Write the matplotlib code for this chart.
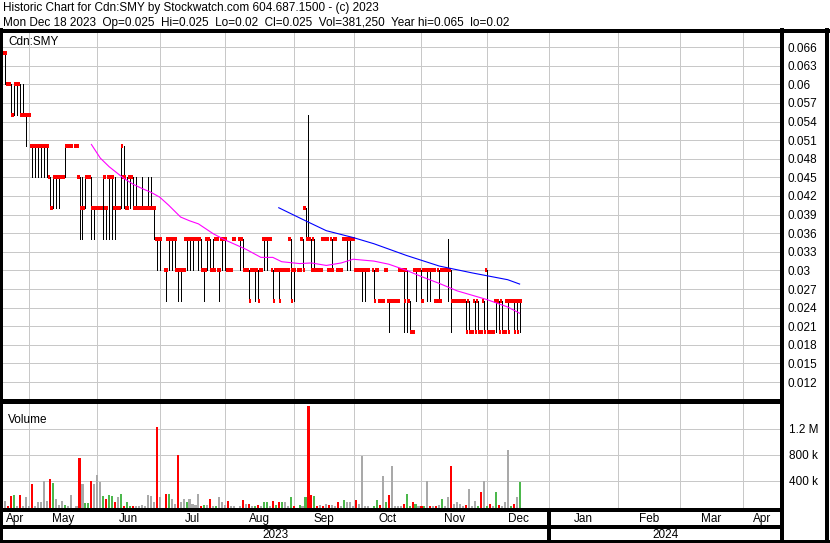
import numpy as np
import matplotlib
matplotlib.use('Agg')
import matplotlib.pyplot as plt
from matplotlib.lines import Line2D

plt.rcParams['font.family'] = ['Liberation Sans', 'DejaVu Sans']

# ---------------- data ----------------
first_day = '2023-04-18'
last_day = '2023-12-18'
holidays = ['2023-05-22', '2023-07-03', '2023-08-07', '2023-09-04', '2023-10-09']

# OHLC in thousandths of a dollar, one entry per trading day (Apr..Dec)
opens = [65, 65, 60, 60, 55, 60, 60, 55, 55,
         55, 50, 50, 50, 50, 50, 50, 45, 40, 45, 45, 45, 45, 50, 50, 50, 45, 40, 40, 45, 45, 40,
         40, 40, 40, 40, 45, 45, 40, 40, 40, 45, 40, 45, 45, 40, 40, 40, 40, 40, 40, 40, 35, 35,
         30, 35, 35, 35, 30, 30, 30, 35, 35, 35, 35, 35, 35, 30, 35, 35, 30, 35, 30, 35,
         35, 30, 30, 35, 35, 35, 30, 30, 30, 30, 30, 30, 35, 35, 35, 30, 30, 30, 30, 30, 30, 35,
         30, 30, 35, 40, 35, 35, 35, 30, 30, 35, 35, 30, 35, 35, 30, 30, 35, 35, 35, 35,
         30, 30, 30, 30, 30, 30, 30, 25, 25, 30, 25, 25, 25, 25, 30, 30, 30, 25, 20, 30, 30,
         30, 30, 30, 30, 30, 25, 30, 30, 30, 30, 30, 25, 25, 25, 25, 25, 25, 20, 25, 25, 20, 25,
         30, 20, 20, 25, 25, 25, 20, 25, 25, 25, 25, 25]
highs = [65, 65, 60, 60, 60, 60, 60, 60, 55,
         55, 50, 50, 50, 50, 50, 50, 45, 45, 45, 45, 45, 50, 50, 50, 50, 45, 45, 45, 45, 45, 40,
         40, 40, 45, 40, 45, 45, 45, 40, 50, 50, 45, 45, 45, 45, 40, 45, 40, 45, 45, 40, 35, 35,
         30, 35, 35, 35, 30, 30, 30, 35, 35, 35, 35, 35, 35, 30, 35, 35, 35, 35, 30, 35,
         35, 30, 30, 35, 35, 35, 30, 30, 30, 30, 30, 30, 35, 35, 35, 30, 30, 30, 30, 30, 30, 35,
         30, 30, 35, 40, 55, 35, 35, 30, 30, 35, 35, 30, 35, 35, 30, 30, 35, 35, 35, 35,
         30, 30, 30, 30, 30, 30, 30, 25, 25, 30, 25, 25, 25, 25, 30, 30, 30, 25, 20, 30, 30,
         30, 30, 30, 30, 30, 25, 30, 30, 30, 35, 30, 25, 25, 25, 25, 25, 25, 20, 25, 25, 20, 25,
         30, 20, 20, 25, 25, 25, 20, 25, 25, 25, 25, 25]
lows = [65, 60, 60, 55, 55, 55, 55, 55, 50,
        55, 45, 45, 45, 45, 45, 45, 40, 40, 40, 40, 45, 45, 50, 50, 50, 35, 35, 40, 45, 35, 35,
        40, 40, 35, 35, 35, 35, 35, 40, 40, 40, 40, 40, 40, 40, 40, 40, 40, 40, 40, 35, 30, 30,
        25, 30, 30, 30, 25, 25, 30, 30, 30, 30, 35, 30, 30, 25, 30, 30, 30, 35, 25, 30,
        30, 30, 30, 35, 30, 30, 30, 25, 30, 25, 25, 30, 30, 30, 35, 25, 30, 25, 30, 30, 30, 25,
        25, 30, 30, 35, 35, 30, 30, 30, 30, 35, 35, 30, 30, 35, 30, 30, 35, 30, 30, 35,
        30, 30, 25, 25, 30, 25, 30, 25, 25, 30, 20, 25, 25, 25, 30, 20, 20, 20, 20, 25, 30,
        25, 30, 25, 25, 30, 25, 25, 30, 30, 25, 20, 25, 25, 25, 25, 20, 20, 20, 20, 20, 20, 20,
        20, 20, 20, 20, 20, 20, 20, 20, 25, 20, 20, 20]
closes = [65, 65, 60, 55, 60, 60, 55, 55, 55,
          55, 50, 50, 50, 50, 50, 50, 40, 45, 45, 45, 45, 50, 50, 50, 50, 40, 40, 45, 45, 40, 40,
          40, 40, 45, 40, 45, 45, 40, 40, 50, 45, 40, 45, 40, 40, 40, 40, 40, 40, 40, 40, 35, 35,
          30, 35, 35, 35, 30, 30, 30, 35, 35, 35, 35, 35, 30, 30, 35, 30, 30, 35, 30, 35,
          35, 30, 30, 35, 35, 30, 30, 25, 30, 30, 25, 30, 35, 35, 35, 25, 30, 25, 30, 30, 30, 25,
          30, 30, 30, 35, 35, 30, 30, 30, 30, 35, 35, 30, 30, 35, 30, 30, 35, 35, 35, 35,
          30, 30, 30, 30, 30, 25, 30, 25, 25, 30, 25, 25, 25, 25, 30, 25, 25, 20, 20, 30, 30,
          25, 30, 30, 30, 30, 25, 25, 30, 30, 30, 25, 25, 25, 25, 25, 20, 20, 20, 20, 20, 20, 20,
          20, 20, 20, 25, 20, 20, 20, 20, 25, 20, 20, 25]

# daily volume (thousands of shares) and bar colour code (R down, G up, N unchanged)
volumes = [56, 92, 15, 169, 185, 15, 185, 5, 154,
           5, 339, 15, 72, 67, 400, 92, 431, 369, 123, 31, 82, 31, 5, 185, 5, 739, 339, 56, 56, 400, 354,
           492, 380, 169, 123, 185, 159, 77, 154, 200, 10, 72, 15, 5, 5, 4, 31, 5, 185, 169, 77, 1231, 154,
           200, 200, 123, 46, 800, 77, 123, 77, 123, 46, 31, 200, 15, 31, 31, 123, 15, 5, 154, 62,
           31, 92, 5, 5, 5, 108, 46, 46, 5, 5, 31, 5, 77, 62, 5, 92, 31, 77, 77, 77, 4, 154,
           5, 31, 15, 139, 1554, 185, 169, 5, 31, 5, 46, 31, 31, 5, 62, 5, 108, 77, 62, 4,
           108, 46, 785, 5, 5, 5, 108, 31, 462, 77, 185, 616, 5, 5, 5, 46, 200, 5, 77, 46, 4,
           15, 5, 400, 15, 5, 5, 31, 123, 4, 139, 616, 46, 77, 46, 5, 31, 277, 5, 92, 15, 231, 400,
           15, 36, 5, 231, 31, 5, 77, 877, 15, 46, 139, 381]
vol_codes = ("NNRRGNRNN"
             "NRNNNNNRGNNNGNNNRNGGRN"
             "NNGRGGRNGRGGRNNNNNNNRN"
             "RGNNRNNGNNNNRGNRNGNN"
             "NRNNNRNRNGRNGGNRGRGNNG"
             "RGNGRRGRNRNRNNRNGNNN"
             "RNNNNGGRNGRNNNNRGGRGN"
             "RGNRNRNGNNRNNNNRNNNGRN"
             "GRNGRNNNGRNG")

# moving averages (date, price)
ma_short_dates = ['2023-05-30', '2023-06-02', '2023-06-07', '2023-06-14', '2023-06-19', '2023-06-22',
                  '2023-06-27', '2023-06-30', '2023-07-05', '2023-07-11', '2023-07-14', '2023-07-19',
                  '2023-07-26', '2023-08-01', '2023-08-10', '2023-08-17', '2023-08-23', '2023-08-28',
                  '2023-09-05', '2023-09-11', '2023-09-18', '2023-09-25', '2023-09-29', '2023-10-10',
                  '2023-10-17', '2023-10-25', '2023-11-01', '2023-11-09', '2023-11-17', '2023-12-01',
                  '2023-12-12', '2023-12-18']
ma_short_vals = [0.0503, 0.0481, 0.0467, 0.0448, 0.0439, 0.0432, 0.0426, 0.0418, 0.0405, 0.0386,
                 0.0380, 0.0375, 0.0359, 0.0349, 0.0334, 0.0321, 0.0321, 0.0314, 0.0311, 0.0312,
                 0.0308, 0.0312, 0.0318, 0.0315, 0.0310, 0.0300, 0.0290, 0.0279, 0.0267, 0.0253,
                 0.0241, 0.0231]
ma_long_dates = ['2023-08-25', '2023-09-07', '2023-09-18', '2023-09-29', '2023-10-10', '2023-10-25',
                 '2023-11-09', '2023-11-24', '2023-12-12', '2023-12-18']
ma_long_vals = [0.0401, 0.0380, 0.0364, 0.0353, 0.0343, 0.0324, 0.0307, 0.0296, 0.0285, 0.0278]

price_ticks = [0.012, 0.015, 0.018, 0.021, 0.024, 0.027, 0.030, 0.033, 0.036, 0.039, 0.042,
               0.045, 0.048, 0.051, 0.054, 0.057, 0.060, 0.063, 0.066]
vol_ticks = [400, 800, 1200]
vol_tick_labels = ['400 k', '800 k', '1.2 M']
month_names = ['Apr', 'May', 'Jun', 'Jul', 'Aug', 'Sep', 'Oct', 'Nov', 'Dec', 'Jan', 'Feb', 'Mar', 'Apr']
years = ['2023', '2024']

title1 = "Historic Chart for Cdn:SMY by Stockwatch.com 604.687.1500 - (c) 2023"
title2 = "Mon Dec 18 2023  Op=0.025  Hi=0.025  Lo=0.02  Cl=0.025  Vol=381,250  Year hi=0.065  lo=0.02"

# ---------------- layout helpers ----------------
W, H = 830, 543
fig = plt.figure(figsize=(W / 100, H / 100), dpi=100)
fig.patch.set_facecolor('white')


def rect(x0, y0, x1, y1):
    return [x0 / W, 1 - y1 / H, (x1 - x0) / W, (y1 - y0) / H]


def fline(xs, ys, lw=1.0, color='black'):
    fig.add_artist(Line2D([v / W for v in xs], [1 - v / H for v in ys], lw=lw, color=color,
                          antialiased=False, transform=fig.transFigure))


days = np.arange(np.datetime64(first_day), np.datetime64(last_day) + 1)
days = days[np.is_busday(days, holidays=holidays)]
X = np.busday_count('2023-05-01', days).astype(float)
O = np.array(opens) / 1000
Hh = np.array(highs) / 1000
L = np.array(lows) / 1000
C = np.array(closes) / 1000
V = np.array(volumes, dtype=float)
cmap = {'R': '#ff0000', 'G': '#4cb84c', 'N': '#a9a9a9'}
vcols = [cmap[c] for c in vol_codes]

month_starts = np.arange(np.datetime64('2023-05'), np.datetime64('2024-05'),
                         dtype='datetime64[M]').astype('datetime64[D]')
GX = np.busday_count('2023-05-01', month_starts).astype(float)
GX[~np.is_busday(month_starts)] -= 0.8
XL = (-9.4, 252.9)
grid_c = '#c8c8c8'
PLEFT, PRIGHT = 1, 781

# ---------------- price panel ----------------
ax = fig.add_axes(rect(PLEFT, 31, PRIGHT, 400))
ax.set_xlim(*XL)
ax.set_ylim(0.00911, 0.06859)
ax.hlines(price_ticks, XL[0], XL[1], color=grid_c, lw=0.6, zorder=0, antialiased=False)
ax.vlines(GX, 0, 1, transform=ax.get_xaxis_transform(), color=grid_c, lw=0.6, zorder=0,
          antialiased=False)
rng = Hh > L
ax.vlines(X[rng], L[rng], Hh[rng], color='black', lw=0.5, zorder=2, antialiased=False)
ax.hlines(O, X - 0.75, X, color='#ff0000', lw=1.5, zorder=3, antialiased=False)
ax.hlines(C, X, X + 0.75, color='#ff0000', lw=1.5, zorder=3, antialiased=False)
ax.plot(np.busday_count('2023-05-01', np.array(ma_short_dates, dtype='datetime64[D]')),
        ma_short_vals, color='#ff00ff', lw=0.8, zorder=4)
ax.plot(np.busday_count('2023-05-01', np.array(ma_long_dates, dtype='datetime64[D]')),
        ma_long_vals, color='#0000ff', lw=0.8, zorder=4)
ax.set_yticks(price_ticks)
ax.set_yticklabels([f"{t:g}" for t in price_ticks])
ax.yaxis.tick_right()
ax.tick_params(axis='y', length=0, pad=5, labelsize=8.5)
ax.set_xticks([])
for s in ax.spines.values():
    s.set_visible(False)
ax.text(7 / (PRIGHT - PLEFT), 0.97, 'Cdn:SMY', transform=ax.transAxes, fontsize=8.5,
        va='center', ha='left')

# ---------------- volume panel ----------------
av = fig.add_axes(rect(PLEFT, 402, PRIGHT, 509))
av.set_xlim(*XL)
vlo, vhi = -38, 1608
av.set_ylim(vlo, vhi)
av.hlines(vol_ticks, XL[0], XL[1], color=grid_c, lw=0.6, zorder=0, antialiased=False)
av.vlines(GX, 0, 1, transform=av.get_xaxis_transform(), color=grid_c, lw=0.6, zorder=0,
          antialiased=False)
av.bar(X, V - vlo, bottom=vlo, width=0.7, color=vcols, zorder=2, antialiased=False)
av.set_yticks(vol_ticks)
av.set_yticklabels(vol_tick_labels)
av.yaxis.tick_right()
av.tick_params(axis='y', length=0, pad=6, labelsize=8.5)
av.set_xticks([])
for s in av.spines.values():
    s.set_visible(False)
av.text(7 / (PRIGHT - PLEFT), 0.83, 'Volume', transform=av.transAxes, fontsize=8.5,
        va='center', ha='left')

# ---------------- month / year bands ----------------
am = fig.add_axes(rect(PLEFT, 510, PRIGHT, 526))
am.set_xlim(*XL)
am.set_ylim(0, 1)
am.axis('off')
edges = np.concatenate([[XL[0]], GX, [XL[1]]])
for k, name in enumerate(month_names):
    am.text((edges[k] + edges[k + 1]) / 2, 0.45, name, ha='center', va='center', fontsize=8.5)

ay = fig.add_axes(rect(PLEFT, 527, PRIGHT, 541))
ay.set_xlim(*XL)
ay.set_ylim(0, 1)
ay.axis('off')
jan = GX[8]
ay.text((XL[0] + jan) / 2, 0.45, years[0], ha='center', va='center', fontsize=8.5)
ay.text((jan + XL[1]) / 2, 0.45, years[1], ha='center', va='center', fontsize=8.5)

# ---------------- frame lines ----------------
fline([0, 830], [30.5, 30.5], lw=1.6)
fline([0.8, 0.8], [30, 542], lw=1.6)
fline([781.5, 781.5], [30, 542], lw=1.6)
fline([827.2, 827.2], [30, 542], lw=1.6)
fline([0, 828], [541.5, 541.5], lw=1.6)
fline([0, 781.5], [400, 400], lw=0.8)
fline([0, 781.5], [402, 402], lw=0.8)
fline([0, 781.5], [510, 510], lw=1.6)
fline([0, 781.5], [526.5, 526.5], lw=1.6)
jan_px = PLEFT + (jan - XL[0]) / (XL[1] - XL[0]) * (PRIGHT - PLEFT)
fline([jan_px, jan_px], [510, 541.5], lw=1.6)

# ---------------- header ----------------
fig.text(3 / W, 1 - 8.5 / H, title1, fontsize=8.5, va='center', ha='left')
fig.text(3 / W, 1 - 23 / H, title2, fontsize=8.5, va='center', ha='left')

fig.savefig('out.png', dpi=100)
